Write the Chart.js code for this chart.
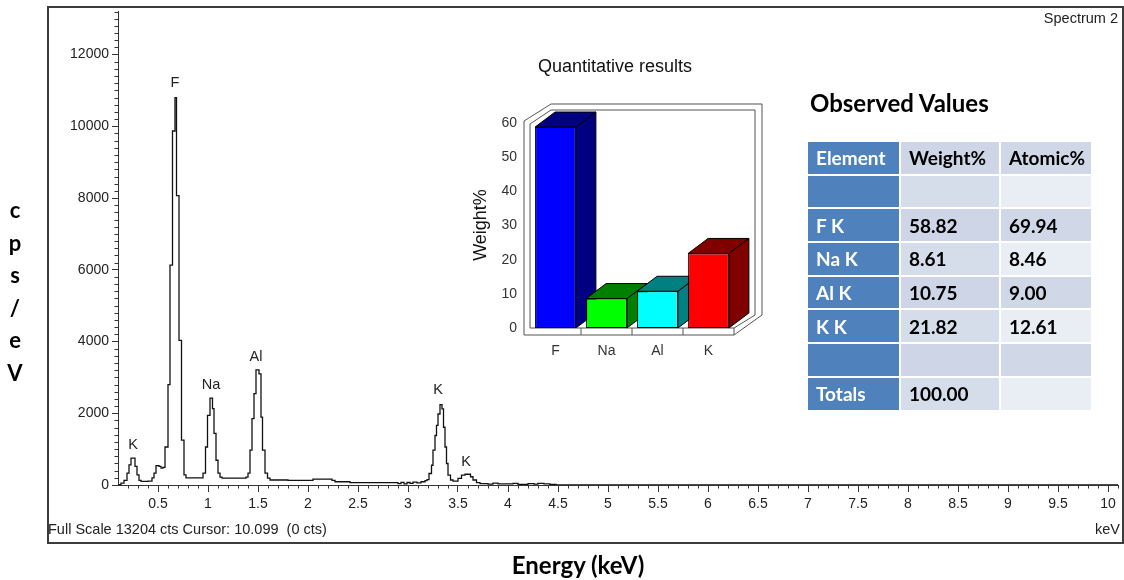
<!DOCTYPE html>
<html>
<head>
<meta charset="utf-8">
<script src="https://cdn.jsdelivr.net/npm/chart.js@4.4.1/dist/chart.umd.min.js"></script>
<style>
  body { margin: 0; background: #fff; }
  #page { position: relative; width: 1124px; height: 580px; overflow: hidden; font-family: "Liberation Sans", Arial, sans-serif; }
  #frame { position: absolute; left: 47px; top: 6px; width: 1073px; height: 534px; border: 2px solid #3c3c3c; }
  #specWrap { position: absolute; left: 0; top: 0; width: 1124px; height: 580px; }
  #insetWrap { position: absolute; left: 460px; top: 40px; width: 330px; height: 340px; }
  .small { position: absolute; font-size: 14.5px; line-height: 16px; color: #222; white-space: pre; }
  .big { position: absolute; font-family: Lato, "Open Sans", sans-serif; font-weight: bold; color: #000; white-space: nowrap; }
  #obs { position: absolute; left: 806px; top: 140px; border-collapse: collapse; table-layout: fixed; width: 287px;
         font-family: Lato, "Open Sans", sans-serif; font-weight: bold; font-size: 19px; }
  #obs td { border: 2px solid #fff; padding: 0 0 0 8px; height: 31.7px; color: #000; white-space: nowrap; }
  #obs td.c1 { background: #4f81bd; color: #fff; }
</style>
</head>
<body>
<div id="page">
  <div id="frame"></div>
  <div id="specWrap"><canvas id="spec"></canvas></div>
  <div id="insetWrap"><canvas id="inset"></canvas></div>

  <div class="small" style="left:990px; top:10px; width:128px; text-align:right;">Spectrum 2</div>
  <div class="small" style="left:48px; top:521px;">Full Scale 13204 cts Cursor: 10.099  (0 cts)</div>
  <div class="small" style="left:1070px; top:521px; width:50px; text-align:right;">keV</div>

  <div class="big" style="left:3px; top:194px; width:24px; text-align:center; font-size:22px; line-height:32.5px;">c<br>p<br>s<br>/<br>e<br>V</div>
  <div class="big" style="left:428px; top:551px; width:300px; text-align:center; font-size:24px; line-height:28px;">Energy (keV)</div>
  <div class="big" style="left:810px; top:88px; font-size:24px; line-height:30px;">Observed Values</div>

  <table id="obs"></table>
</div>

<script>
// spectrum: energy (keV) where each step starts, and counts of that step
var energy = [0.10, 0.13, 0.16, 0.19, 0.21, 0.23, 0.27, 0.29, 0.31, 0.33,
              0.40, 0.44, 0.46, 0.48, 0.51, 0.53, 0.55, 0.57, 0.60, 0.62,
              0.645, 0.67, 0.685, 0.71, 0.735, 0.76, 0.78, 0.95, 0.975, 0.995,
              1.02, 1.045, 1.06, 1.08, 1.10, 1.12, 1.14, 1.38, 1.40, 1.42,
              1.44, 1.46, 1.48, 1.51, 1.53, 1.545, 1.57, 1.595, 1.62, 1.80,
              2.05, 2.24, 2.27, 2.42, 2.90, 2.93, 2.96, 2.99, 3.02, 3.05,
              3.09, 3.13, 3.17, 3.19, 3.21, 3.235, 3.25, 3.27, 3.285, 3.30,
              3.32, 3.34, 3.355, 3.37, 3.385, 3.40, 3.425, 3.45, 3.50, 3.535,
              3.57, 3.625, 3.65, 3.685, 3.72, 3.80, 3.85, 3.90, 4.05, 4.10,
              4.20, 4.26, 4.30, 4.36, 4.42, 4.48, 10.1];
var counts = [10, 50, 130, 330, 560, 750, 520, 280, 130, 100,
              110, 200, 330, 540, 520, 470, 490, 1060, 2800, 6130,
              9870, 10800, 8070, 4030, 1250, 280, 200, 330, 1060, 1940,
              2420, 2130, 1440, 690, 330, 220, 190, 220, 330, 970,
              1850, 2550, 3210, 3100, 1890, 970, 330, 190, 140, 130,
              165, 130, 90, 65, 40, 75, 30, 70, 45, 80,
              60, 90, 120, 150, 320, 550, 970, 1380, 1660, 1980,
              2240, 2120, 1610, 1060, 600, 275, 140, 110, 185, 275,
              300, 230, 140, 65, 40, 25, 50, 30, 45, 20,
              40, 25, 45, 30, 15, 0, 0];

var xTicks = [0.5, 1, 1.5, 2, 2.5, 3, 3.5, 4, 4.5, 5, 5.5, 6, 6.5, 7, 7.5, 8, 8.5, 9, 9.5, 10];
var yTicks = [0, 2000, 4000, 6000, 8000, 10000, 12000];
var fullScale = 13204;

// peak labels
var peakNames = ['K', 'F', 'Na', 'Al', 'K', 'K'];
var peakEnergy = [0.25, 0.67, 1.03, 1.48, 3.30, 3.58];
var peakLabelY = [1110, 11200, 2800, 3560, 2650, 640];

// inset bar chart
var elements = ['F', 'Na', 'Al', 'K'];
var weights = [58.82, 8.61, 10.75, 21.82];
var frontColors = ['#0000ff', '#00ff00', '#00ffff', '#ff0000'];
var sideColors = ['#000080', '#008000', '#008080', '#800000'];

// table
var tableHead = ['Element', 'Weight%', 'Atomic%'];
var rowNames = ['', 'F K', 'Na K', 'Al K', 'K K', '', 'Totals'];
var rowWeight = ['', '58.82', '8.61', '10.75', '21.82', '', '100.00'];
var rowAtomic = ['', '69.94', '8.46', '9.00', '12.61', '', ''];

var smallFont = '"Liberation Sans", Arial, sans-serif';

// build the table
(function() {
    var rows = [tableHead].concat(rowNames.map(function(n, i) { return [n, rowWeight[i], rowAtomic[i]]; }));
    var col2 = ['#cdd5e6', '#d6ddea'];
    var col3 = ['#d0d8e8', '#e9edf4'];
    var html = '';
    rows.forEach(function(r, i) {
        html += '<tr><td class="c1" style="width:83px">' + r[0] + '</td>' +
                '<td style="width:90px;background:' + col2[i % 2] + '">' + r[1] + '</td>' +
                '<td style="background:' + col3[i % 2] + '">' + r[2] + '</td></tr>';
    });
    document.getElementById('obs').innerHTML = html;
})();

// minor ticks + peak labels on the spectrum
var specExtras = {
    id: 'specExtras',
    afterDraw: function(chart) {
        var ctx = chart.ctx, x = chart.scales.x, y = chart.scales.y, a = chart.chartArea;
        ctx.save();
        ctx.strokeStyle = '#333';
        ctx.lineWidth = 1;
        ctx.beginPath();
        for (var k = 2; k <= 101; k++) {
            if (k % 5 === 0) continue;
            var px = Math.round(x.getPixelForValue(k / 10)) + 0.5;
            ctx.moveTo(px, a.bottom);
            ctx.lineTo(px, a.bottom + 3.5);
        }
        for (var c = 200; c <= fullScale; c += 200) {
            if (c % 2000 === 0) continue;
            var py = Math.round(y.getPixelForValue(c)) + 0.5;
            ctx.moveTo(a.left - 3.5, py);
            ctx.lineTo(a.left, py);
        }
        ctx.stroke();

        ctx.fillStyle = '#222';
        ctx.font = '14.5px ' + smallFont;
        ctx.textAlign = 'center';
        ctx.textBaseline = 'middle';
        peakNames.forEach(function(n, i) {
            ctx.fillText(n, x.getPixelForValue(peakEnergy[i]), y.getPixelForValue(peakLabelY[i]));
        });
        ctx.restore();
    }
};

new Chart(document.getElementById('spec').getContext('2d'), {
    type: 'line',
    data: {
        datasets: [{
            data: energy.map(function(e, i) { return { x: e, y: counts[i] }; }),
            borderColor: '#111',
            borderWidth: 1.3,
            stepped: true,
            pointRadius: 0,
            fill: false
        }]
    },
    options: {
        responsive: true,
        maintainAspectRatio: false,
        animation: false,
        layout: { padding: { left: 48, right: 6, top: 8, bottom: 65 } },
        plugins: { legend: { display: false }, tooltip: { enabled: false } },
        scales: {
            x: {
                type: 'linear',
                min: 0.1,
                max: 10.1,
                afterFit: function(s) { s.height = 30; },
                afterBuildTicks: function(s) { s.ticks = xTicks.map(function(v) { return { value: v }; }); },
                grid: { drawOnChartArea: false, drawTicks: true, tickLength: 7, color: '#333' },
                border: { color: '#333', width: 1 },
                ticks: {
                    autoSkip: false, maxRotation: 0, padding: 4, color: '#222',
                    font: { family: smallFont, size: 14 },
                    callback: function(v) { return String(v); }
                }
            },
            y: {
                min: 0,
                max: fullScale,
                afterFit: function(s) { s.width = 70; },
                afterBuildTicks: function(s) { s.ticks = yTicks.map(function(v) { return { value: v }; }); },
                grid: { drawOnChartArea: false, drawTicks: true, tickLength: 6, color: '#333' },
                border: { color: '#333', width: 1 },
                ticks: {
                    padding: 3, color: '#222',
                    font: { family: smallFont, size: 14 },
                    callback: function(v) { return String(v); }
                }
            }
        }
    },
    plugins: [specExtras]
});

// 3D box and bar depth for the inset
var depthX = 20, depthY = -15;
var bar3d = {
    id: 'bar3d',
    beforeDatasetsDraw: function(chart) {
        var ctx = chart.ctx, a = chart.chartArea, xs = chart.scales.x;
        var L = a.left, R = a.right, T = a.top, B = a.bottom;
        ctx.save();
        ctx.strokeStyle = '#555';
        ctx.lineWidth = 1;
        ctx.beginPath();
        ctx.moveTo(L - 6, B + 7); ctx.lineTo(L - 6, T - 2); ctx.lineTo(L + 21, T - 19);
        ctx.lineTo(R + 28, T - 19); ctx.lineTo(R + 28, B - 13); ctx.lineTo(R, B + 7); ctx.closePath();
        ctx.stroke();
        ctx.beginPath();
        ctx.moveTo(L, B); ctx.lineTo(L, T + 1); ctx.lineTo(L + 21, T - 13);
        ctx.lineTo(R + 21, T - 13); ctx.lineTo(R + 21, B - 13); ctx.lineTo(R, B); ctx.closePath();
        ctx.stroke();
        ctx.beginPath();
        for (var i = 0; i < elements.length; i++) {
            var bx = i < elements.length - 1 ? (xs.getPixelForValue(i) + xs.getPixelForValue(i + 1)) / 2 : R;
            ctx.moveTo(bx, B); ctx.lineTo(bx, B + 7);
        }
        ctx.stroke();

        ctx.strokeStyle = '#000';
        chart.getDatasetMeta(0).data.forEach(function(bar, i) {
            var p = bar.getProps(['x', 'y', 'base', 'width'], true);
            var l = p.x - p.width / 2, r = p.x + p.width / 2;
            ctx.fillStyle = sideColors[i];
            ctx.beginPath();
            ctx.moveTo(r, p.y); ctx.lineTo(r + depthX, p.y + depthY);
            ctx.lineTo(r + depthX, p.base + depthY); ctx.lineTo(r, p.base); ctx.closePath();
            ctx.fill(); ctx.stroke();
            ctx.beginPath();
            ctx.moveTo(l, p.y); ctx.lineTo(l + depthX, p.y + depthY);
            ctx.lineTo(r + depthX, p.y + depthY); ctx.lineTo(r, p.y); ctx.closePath();
            ctx.fill(); ctx.stroke();
        });
        ctx.restore();
    },
    afterDraw: function(chart) {
        var ctx = chart.ctx;
        ctx.save();
        ctx.fillStyle = '#111';
        ctx.textAlign = 'center';
        ctx.textBaseline = 'middle';
        ctx.font = '18px ' + smallFont;
        ctx.fillText('Quantitative results', 155, 27);
        ctx.translate(21, 185);
        ctx.rotate(-Math.PI / 2);
        ctx.font = '18px ' + smallFont;
        ctx.fillText('Weight%', 0, 0);
        ctx.restore();
    }
};

new Chart(document.getElementById('inset').getContext('2d'), {
    type: 'bar',
    data: {
        labels: elements,
        datasets: [{
            data: weights,
            backgroundColor: frontColors,
            borderColor: '#000',
            borderWidth: 1,
            borderSkipped: false,
            barPercentage: 0.8,
            categoryPercentage: 1.0
        }]
    },
    options: {
        responsive: true,
        maintainAspectRatio: false,
        animation: false,
        layout: { padding: { left: 20, right: 56, top: 83, bottom: 22 } },
        plugins: { legend: { display: false }, tooltip: { enabled: false } },
        scales: {
            x: {
                afterFit: function(s) { s.height = 30; },
                grid: { display: false, drawTicks: false },
                border: { display: false },
                ticks: { padding: 15, color: '#333', font: { family: smallFont, size: 14 } }
            },
            y: {
                min: 0,
                max: 60,
                afterFit: function(s) { s.width = 50; },
                grid: { display: false, drawTicks: false },
                border: { display: false },
                ticks: { stepSize: 10, padding: 13, color: '#333', font: { family: smallFont, size: 14 } }
            }
        }
    },
    plugins: [bar3d]
});
</script>
</body>
</html>
